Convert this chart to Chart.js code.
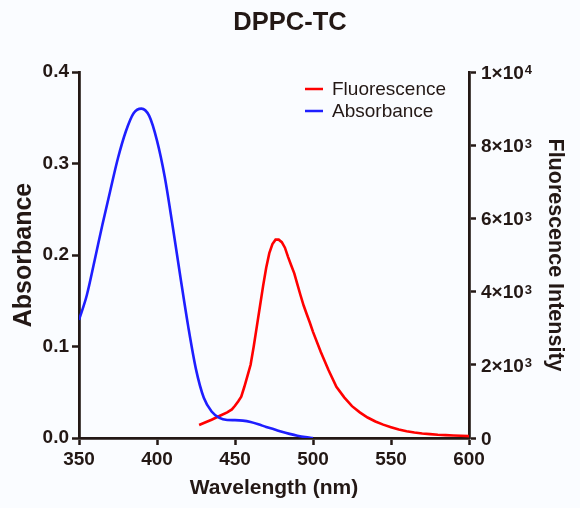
<!DOCTYPE html>
<html>
<head>
<meta charset="utf-8">
<script src="https://cdn.jsdelivr.net/npm/chart.js@4.4.1/dist/chart.umd.min.js"></script>
<style>
  html, body { margin: 0; padding: 0; background: #fafcff; }
  canvas { display: block; }
</style>
</head>
<body>
<canvas id="c" width="580" height="508"></canvas>
<script>
// ---- Data ----
const chartTitle = 'DPPC-TC';
const xTitle = 'Wavelength (nm)';
const yLeftTitle = 'Absorbance';
const yRightTitle = 'Fluorescence Intensity';

const absWavelength = [350,355,360,365,370,375,380,385,390,395,400,405,410,415,420,425,430,435,440,445,450,455,460,465,470,475,480,485,490,495,500];
const absValues     = [0.129,0.156,0.194,0.233,0.270,0.306,0.335,0.355,0.360,0.352,0.325,0.285,0.232,0.176,0.122,0.075,0.044,0.029,0.022,0.0197,0.0195,0.019,0.0175,0.015,0.012,0.0095,0.0068,0.0045,0.0025,0.001,0.0];

const flWavelength = [427,430,435,440,445,448,450,452,454,456,458,460,462,464,466,468,470,472,474,476,478,480,482,484,486,488,490,492,494,496,498,500,505,510,515,520,525,530,535,540,545,550,555,560,565,570,575,580,585,590,595,600];
const flValues     = [355,410,500,600,700,780,880,1000,1130,1400,1700,2000,2500,3050,3600,4150,4650,5050,5300,5420,5420,5350,5200,4950,4720,4500,4200,3900,3620,3380,3150,2900,2350,1850,1400,1110,870,700,560,450,365,295,230,185,150,125,107,90,78,68,60,52];

const xTicks = [350,400,450,500,550,600];
const yLeftTicks = ['0.0','0.1','0.2','0.3','0.4'];
const yRightTickValues = [0,2000,4000,6000,8000,10000];
const yRightTickBase = ['0','2×10','4×10','6×10','8×10','1×10'];
const yRightTickExp  = ['','3','3','3','3','4'];

// ---- Styles ----
const INK = '#231815';
const RED = 'rgb(255,0,0)';
const BLUE = 'rgb(30,30,255)';
const FONT = "'Liberation Sans', Arial, Helvetica, sans-serif";

const bgPlugin = {
  id: 'bg',
  beforeDraw(chart) {
    const ctx = chart.ctx;
    ctx.save();
    ctx.fillStyle = '#fafcff';
    ctx.fillRect(0, 0, chart.width, chart.height);
    ctx.restore();
  }
};

// right-axis labels with real superscript exponents
const rightLabelPlugin = {
  id: 'rightLabels',
  afterDraw(chart) {
    const ctx = chart.ctx;
    const sc = chart.scales.y2;
    const x0 = chart.chartArea.right + 12;
    ctx.save();
    ctx.fillStyle = INK;
    ctx.textAlign = 'left';
    ctx.textBaseline = 'alphabetic';
    yRightTickValues.forEach((v, i) => {
      const y = sc.getPixelForValue(v);
      const base = yRightTickBase[i];
      ctx.font = 'bold 19px ' + FONT;
      const baseline = y + 6.8;
      ctx.fillText(base, x0, baseline);
      const w = ctx.measureText(base).width;
      if (yRightTickExp[i]) {
        ctx.font = 'bold 13px ' + FONT;
        ctx.fillText(yRightTickExp[i], x0 + w + 1, baseline - 4.5);
      }
    });
    ctx.restore();
  }
};

const legendPlugin = {
  id: 'insideLegend',
  afterDraw(chart) {
    const ctx = chart.ctx;
    const order = [1, 0];
    ctx.save();
    ctx.font = '19px ' + FONT;
    ctx.textBaseline = 'middle';
    ctx.textAlign = 'left';
    order.forEach((di, i) => {
      const ds = chart.data.datasets[di];
      const y = 89 + i * 22;
      ctx.strokeStyle = ds.borderColor;
      ctx.lineWidth = 2.5;
      ctx.beginPath();
      ctx.moveTo(305, y);
      ctx.lineTo(323, y);
      ctx.stroke();
      ctx.fillStyle = INK;
      ctx.fillText(ds.label, 332, y + 1);
    });
    ctx.restore();
  }
};

const absData = absWavelength.map((x, i) => ({ x, y: absValues[i] }));
const flData = flWavelength.map((x, i) => ({ x, y: flValues[i] }));

new Chart(document.getElementById('c'), {
  type: 'line',
  data: {
    datasets: [
      {
        label: 'Absorbance',
        data: absData,
        yAxisID: 'y',
        borderColor: BLUE,
        borderWidth: 2.6,
        pointRadius: 0,
        cubicInterpolationMode: 'monotone',
        fill: false
      },
      {
        label: 'Fluorescence',
        data: flData,
        yAxisID: 'y2',
        borderColor: RED,
        borderWidth: 2.6,
        pointRadius: 0,
        tension: 0,
        fill: false
      }
    ]
  },
  options: {
    responsive: false,
    devicePixelRatio: 1,
    animation: false,
    layout: { padding: 0 },
    plugins: {
      legend: { display: false },
      tooltip: { enabled: false },
      title: {
        display: true,
        text: chartTitle,
        color: INK,
        font: { family: FONT, size: 25.5, weight: 'bold', lineHeight: 1.2 },
        padding: { top: 7.7, bottom: 33.7 }
      }
    },
    scales: {
      x: {
        type: 'linear',
        min: 350, max: 600,
        afterBuildTicks(scale) { scale.ticks = xTicks.map(v => ({ value: v })); },
        afterFit(scale) { scale.height = 70; },
        grid: { display: true, drawOnChartArea: false, drawTicks: true, tickLength: 7, tickWidth: 2.5, tickColor: INK },
        border: { display: true, color: INK, width: 2.8 },
        ticks: { color: INK, padding: 3, font: { family: FONT, size: 19, weight: 'bold' }, maxRotation: 0, autoSkip: false, callback: v => String(v) },
        title: { display: true, text: xTitle, color: INK, font: { family: FONT, size: 21, weight: 'bold', lineHeight: 1.2 }, padding: { top: 0, bottom: 7.4 } }
      },
      y: {
        position: 'left',
        min: 0, max: 0.4,
        afterBuildTicks(scale) { scale.ticks = yLeftTicks.map(t => ({ value: parseFloat(t) })); },
        afterFit(scale) { scale.width = 79; },
        grid: { display: true, drawOnChartArea: false, drawTicks: true, tickLength: 7, tickWidth: 2.5, tickColor: INK },
        border: { display: true, color: INK, width: 2.8 },
        ticks: { color: INK, padding: 3, font: { family: FONT, size: 19, weight: 'bold' }, autoSkip: false, callback: (v, i) => yLeftTicks[i] },
        title: { display: true, text: yLeftTitle, color: INK, font: { family: FONT, size: 25, weight: 'bold', lineHeight: 1.2 }, padding: { top: 9, bottom: 0 } }
      },
      y2: {
        position: 'right',
        min: 0, max: 10000,
        afterBuildTicks(scale) { scale.ticks = yRightTickValues.map(v => ({ value: v })); },
        afterFit(scale) { scale.width = 111; },
        grid: { display: true, drawOnChartArea: false, drawTicks: true, tickLength: 7, tickWidth: 2.5, tickColor: INK },
        border: { display: true, color: INK, width: 2.8 },
        ticks: { display: false },
        title: { display: true, text: yRightTitle, color: INK, font: { family: FONT, size: 21.5, weight: 'bold', lineHeight: 1.2 }, padding: { top: 12, bottom: 0 } }
      }
    }
  },
  plugins: [bgPlugin, rightLabelPlugin, legendPlugin]
});
</script>
</body>
</html>
